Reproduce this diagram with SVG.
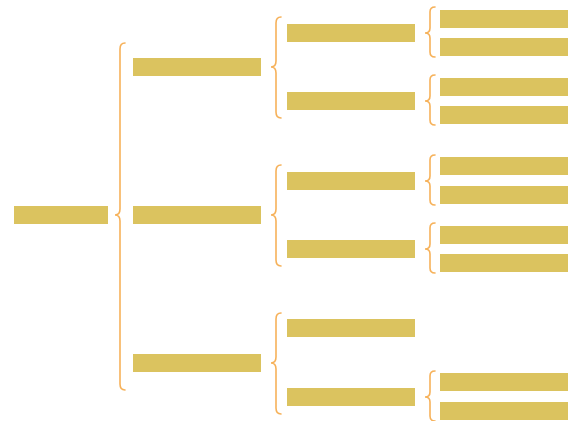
<svg xmlns="http://www.w3.org/2000/svg" width="570" height="421" viewBox="0 0 570 421">
<style>
.n{fill:#DBC35F}
.b{fill:none;stroke:#F5A33C;stroke-width:1.6;stroke-opacity:0.85;stroke-linecap:round}
</style>
<rect width="570" height="421" fill="#fff"/>
<g id="connectors">
<path class="b" d="M125,43 Q120,43 120,49 L120,209 Q120,215 115,215 Q120,215 120,221 L120,384 Q120,390 125,390"/>
<path class="b" d="M281,17 Q276,17 276,23 L276,61 Q276,67 271,67 Q276,67 276,73 L276,112 Q276,118 281,118"/>
<path class="b" d="M281,165 Q276,165 276,171 L276,209 Q276,215 271,215 Q276,215 276,221 L276,260 Q276,266 281,266"/>
<path class="b" d="M281,313 Q276,313 276,319 L276,357 Q276,363 271,363 Q276,363 276,369 L276,408 Q276,414 281,414"/>
<path class="b" d="M435,7 Q430,7 430,12 L430,28 Q430,33 425,33 Q430,33 430,38 L430,52 Q430,57 435,57"/>
<path class="b" d="M435,75 Q430,75 430,80 L430,96 Q430,101 425,101 Q430,101 430,106 L430,120 Q430,125 435,125"/>
<path class="b" d="M435,155 Q430,155 430,160 L430,176 Q430,181 425,181 Q430,181 430,186 L430,200 Q430,205 435,205"/>
<path class="b" d="M435,223 Q430,223 430,228 L430,244 Q430,249 425,249 Q430,249 430,254 L430,268 Q430,273 435,273"/>
<path class="b" d="M435,371 Q430,371 430,376 L430,392 Q430,397 425,397 Q430,397 430,402 L430,416 Q430,421 435,421"/>
</g>
<g id="root"><rect class="n" x="14" y="206" width="94" height="18"/></g>
<g id="n1"><rect class="n" x="133" y="58" width="128" height="18"/></g>
<g id="n2"><rect class="n" x="133" y="206" width="128" height="18"/></g>
<g id="n3"><rect class="n" x="133" y="354" width="128" height="18"/></g>
<g id="n11"><rect class="n" x="287" y="24" width="128" height="18"/></g>
<g id="n12"><rect class="n" x="287" y="92" width="128" height="18"/></g>
<g id="n21"><rect class="n" x="287" y="172" width="128" height="18"/></g>
<g id="n22"><rect class="n" x="287" y="240" width="128" height="18"/></g>
<g id="n31"><rect class="n" x="287" y="319" width="128" height="18"/></g>
<g id="n32"><rect class="n" x="287" y="388" width="128" height="18"/></g>
<g id="n111"><rect class="n" x="440" y="10" width="128" height="18"/></g>
<g id="n112"><rect class="n" x="440" y="38" width="128" height="18"/></g>
<g id="n121"><rect class="n" x="440" y="78" width="128" height="18"/></g>
<g id="n122"><rect class="n" x="440" y="106" width="128" height="18"/></g>
<g id="n211"><rect class="n" x="440" y="157" width="128" height="18"/></g>
<g id="n212"><rect class="n" x="440" y="186" width="128" height="18"/></g>
<g id="n221"><rect class="n" x="440" y="226" width="128" height="18"/></g>
<g id="n222"><rect class="n" x="440" y="254" width="128" height="18"/></g>
<g id="n321"><rect class="n" x="440" y="373" width="128" height="18"/></g>
<g id="n322"><rect class="n" x="440" y="402" width="128" height="18"/></g>
</svg>
